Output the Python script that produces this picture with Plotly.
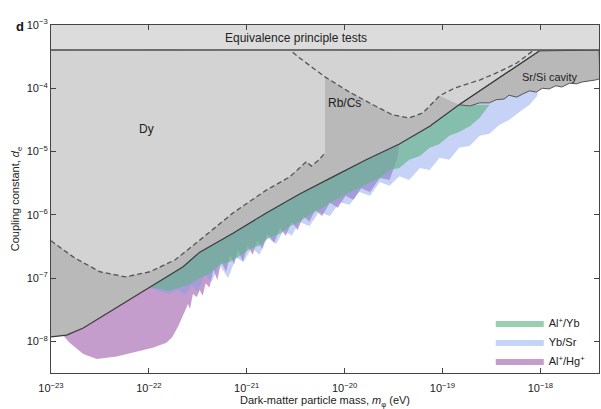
import numpy as np
import plotly.graph_objects as go

# all values below are log10 of mass (eV) and log10 of coupling d_e
x_range = [-23, -17.4]
y_range = [-8.5, -3]
ep_limit = -3.395  # equivalence principle tests

x_ticks = [-23, -22, -21, -20, -19, -18]
y_ticks = [-8, -7, -6, -5, -4, -3]

# solid line: combined bound from this work
solid_m = [-23.0, -22.84, -22.67, -22.5, -22.33, -22.16, -21.99, -21.82, -21.65, -21.48,
           -21.14, -20.8, -20.46, -20.12, -19.78, -19.44, -19.13, -18.83, -18.01]
solid_d = [-7.93, -7.9, -7.79, -7.63, -7.47, -7.31, -7.14, -6.98, -6.82, -6.59,
           -6.29, -5.97, -5.67, -5.4, -5.13, -4.88, -4.6, -4.26, -3.41]

# Dy bound (dashed, left)
dy_m = [-23.0, -22.76, -22.5, -22.24, -21.99, -21.73, -21.48, -21.14, -20.8, -20.56,
        -20.39, -20.34, -20.26, -20.2]
dy_d = [-6.41, -6.68, -6.9, -6.98, -6.9, -6.71, -6.4, -5.97, -5.61, -5.4,
        -5.16, -5.23, -5.13, -5.02]

# Rb/Cs bound (dashed, right)
rbcs_m = [-20.53, -20.46, -20.2, -19.95, -19.71, -19.51, -19.34, -19.2, -19.03, -18.88,
          -18.62, -18.42, -18.24, -18.06]
rbcs_d = [-3.43, -3.52, -3.82, -4.06, -4.26, -4.42, -4.47, -4.39, -4.12, -4.0,
          -3.87, -3.74, -3.6, -3.39]

# Sr/Si cavity lower edge
srsi_m = [-18.83, -18.72, -18.62, -18.52, -18.45, -18.37, -18.32, -18.24, -18.18, -18.11,
          -18.04, -17.98, -17.91, -17.84, -17.78, -17.7, -17.63, -17.57, -17.5, -17.44, -17.39]
srsi_d = [-4.26, -4.28, -4.23, -4.23, -4.18, -4.17, -4.11, -4.14, -4.09, -4.04,
          -4.06, -4.0, -4.01, -3.96, -3.98, -3.92, -3.93, -3.9, -3.88, -3.87, -3.85]

# lower edges of the clock comparison bands
alhg_m = [-22.88, -22.81, -22.67, -22.53, -22.33, -22.16, -21.96, -21.82, -21.76, -21.7,
          -21.66, -21.63, -21.6, -21.58, -21.55, -21.51, -21.48, -21.45, -21.42, -21.38,
          -21.34, -21.3, -21.26, -21.21, -21.17, -21.13, -21.09, -21.04, -20.99, -20.94,
          -20.89, -20.84, -20.79, -20.72, -20.66, -20.6, -20.54, -20.48, -20.42, -20.36,
          -20.3, -20.23, -20.15, -20.07, -19.99, -19.91, -19.83, -19.74, -19.64, -19.54,
          -19.46, -19.44]
alhg_d = [-7.9, -8.02, -8.2, -8.28, -8.24, -8.18, -8.1, -8.02, -7.93, -7.76,
          -7.63, -7.53, -7.41, -7.49, -7.25, -7.3, -7.19, -7.28, -7.08, -7.15,
          -6.87, -7.03, -6.74, -6.9, -6.63, -6.79, -6.55, -6.74, -6.49, -6.63,
          -6.4, -6.54, -6.3, -6.44, -6.21, -6.33, -6.11, -6.24, -6.02, -6.11,
          -5.92, -6.02, -5.81, -5.89, -5.7, -5.76, -5.58, -5.64, -5.42, -5.45,
          -5.1, -4.88]

ybsr_m = [-22.01, -21.89, -21.79, -21.7, -21.63, -21.56, -21.5, -21.43, -21.36, -21.28,
          -21.19, -21.11, -21.03, -20.95, -20.87, -20.79, -20.7, -20.62, -20.54, -20.46,
          -20.36, -20.26, -20.15, -20.05, -19.95, -19.85, -19.74, -19.64, -19.54, -19.44,
          -19.34, -19.23, -19.13, -19.03, -18.93, -18.83, -18.72, -18.62, -18.52, -18.42,
          -18.32, -18.21, -18.11, -18.03, -18.01]
ybsr_d = [-7.15, -7.2, -7.25, -7.19, -7.27, -7.11, -7.22, -6.95, -7.06, -6.79,
          -7.0, -6.68, -6.74, -6.52, -6.63, -6.36, -6.46, -6.24, -6.33, -6.11,
          -6.18, -5.95, -6.02, -5.8, -5.84, -5.64, -5.7, -5.48, -5.54, -5.39,
          -5.45, -5.26, -5.29, -5.1, -5.13, -4.94, -4.91, -4.75, -4.72, -4.58,
          -4.5, -4.37, -4.26, -4.12, -3.41]

alyb_m = [-21.99, -21.89, -21.79, -21.68, -21.58, -21.48, -21.38, -21.28, -21.17, -21.07,
          -20.97, -20.87, -20.77, -20.66, -20.56, -20.46, -20.36, -20.26, -20.15, -20.05,
          -19.95, -19.85, -19.74, -19.64, -19.54, -19.44, -19.34, -19.23, -19.13, -19.03,
          -18.93, -18.83, -18.72, -18.62, -18.52]
alyb_d = [-7.14, -7.17, -7.2, -7.15, -7.09, -7.0, -6.93, -6.79, -6.74, -6.65,
          -6.54, -6.49, -6.36, -6.3, -6.18, -6.11, -6.0, -5.92, -5.81, -5.73,
          -5.64, -5.58, -5.48, -5.42, -5.29, -5.26, -5.13, -5.07, -4.94, -4.88,
          -4.75, -4.69, -4.6, -4.47, -4.26]

FONT = "Liberation Sans, Arial, sans-serif"


def band_poly(lo_m, lo_d):
    # lower edge left to right, then back along the solid line
    top = [(m, d) for m, d in zip(solid_m, solid_d) if lo_m[0] < m < lo_m[-1]][::-1]
    xs = list(lo_m) + [t[0] for t in top]
    ys = list(lo_d) + [t[1] for t in top]
    return 10 ** np.array(xs), 10 ** np.array(ys)


def area(xs, ys, color, line_color=None, line_width=0, **kw):
    return go.Scatter(x=10 ** np.array(xs), y=10 ** np.array(ys), mode="lines",
                      fill="toself", fillcolor=color,
                      line=dict(color=line_color or color, width=line_width),
                      hoverinfo="skip", showlegend=False, **kw)


fig = go.Figure()

# clock comparison bands
for name, lo_m, lo_d, col, rank in [
        ("Al<sup>+</sup>/Hg<sup>+</sup>", alhg_m, alhg_d, "rgba(168,110,180,0.68)", 3),
        ("Yb/Sr", ybsr_m, ybsr_d, "rgba(128,155,236,0.45)", 2),
        ("Al<sup>+</sup>/Yb", alyb_m, alyb_d, "rgba(100,180,135,0.65)", 1)]:
    bx, by = band_poly(lo_m, lo_d)
    fig.add_trace(go.Scatter(x=bx, y=by, mode="lines", fill="toself", fillcolor=col,
                             line=dict(width=0, color=col), name=name,
                             legendrank=rank, hoverinfo="skip"))

# excluded regions
fig.add_trace(area(solid_m + [x_range[0]], solid_d + [ep_limit], "#d3d3d3"))
dark_m = dy_m + rbcs_m[2:9] + solid_m[:-1][::-1]
dark_d = dy_d + rbcs_d[2:9] + solid_d[:-1][::-1]
fig.add_trace(area(dark_m, dark_d, "#b9b9b9"))
sr_m = solid_m[-2:] + [x_range[1]] + srsi_m[::-1]
sr_d = solid_d[-2:] + [ep_limit] + srsi_d[::-1]
fig.add_trace(area(sr_m, sr_d, "#b8b8b8", line_color="#555555", line_width=1))
fig.add_trace(area([x_range[0], x_range[1], x_range[1], x_range[0]],
                   [ep_limit, ep_limit, y_range[1], y_range[1]], "#dcdcdc"))

# boundary lines
fig.add_trace(go.Scatter(x=10 ** np.array(x_range), y=[10 ** ep_limit] * 2, mode="lines",
                         line=dict(color="#4a4a4a", width=1.3), hoverinfo="skip",
                         showlegend=False))
fig.add_trace(go.Scatter(x=10 ** np.array(solid_m), y=10 ** np.array(solid_d), mode="lines",
                         line=dict(color="#3a3a3a", width=1.2), hoverinfo="skip",
                         showlegend=False))
for lm, ld in [(dy_m, dy_d), (rbcs_m, rbcs_d)]:
    fig.add_trace(go.Scatter(x=10 ** np.array(lm), y=10 ** np.array(ld), mode="lines",
                             line=dict(color="#555555", width=1.3, dash="5px,3px"),
                             hoverinfo="skip", showlegend=False))

labels = [("Equivalence principle tests", -20.5, -3.2, 12),
          ("Dy", -22.02, -4.65, 12),
          ("Rb/Cs", -20.0, -4.23, 12),
          ("Sr/Si cavity", -17.9, -3.82, 11)]
for txt, lx, ly, size in labels:
    fig.add_annotation(x=lx, y=ly, text=txt, showarrow=False,
                       font=dict(size=size, color="#222222", family=FONT))

fig.add_annotation(x=-0.068, y=1.023, xref="paper", yref="paper", text="<b>d</b>",
                   showarrow=False, font=dict(size=13, color="#111111", family=FONT))

axis_style = dict(type="log", showgrid=False, zeroline=False, showline=True,
                  linecolor="#444444", linewidth=1.2, mirror="allticks",
                  ticks="inside", ticklen=5, tickwidth=1, tickcolor="#444444",
                  automargin=False,
                  tickfont=dict(size=11, color="#222222", family=FONT))

fig.update_xaxes(range=x_range, tickvals=[10.0 ** t for t in x_ticks],
                 ticktext=[f"10<sup>\u2212{-t}</sup>" for t in x_ticks],
                 ticklabelstandoff=5,
                 title=dict(text="Dark-matter particle mass, <i>m</i><sub>\u03c6</sub> (eV)",
                            font=dict(size=11, color="#222222", family=FONT), standoff=2),
                 **axis_style)
fig.update_yaxes(range=y_range, tickvals=[10.0 ** t for t in y_ticks],
                 ticktext=[f"10<sup>\u2212{-t}</sup>" for t in y_ticks],
                 title=dict(text="Coupling constant, <i>d</i><sub>e</sub>",
                            font=dict(size=11, color="#222222", family=FONT), standoff=4),
                 **axis_style)

fig.update_layout(width=601, height=409,
                  margin=dict(l=51, r=2, t=25, b=36, autoexpand=False),
                  paper_bgcolor="white", plot_bgcolor="white",
                  font=dict(family=FONT, size=11, color="#222222"),
                  legend=dict(x=0.985, y=0.185, xanchor="right", yanchor="top",
                              bgcolor="rgba(0,0,0,0)", itemwidth=48,
                              font=dict(size=11, family=FONT), tracegroupgap=0))

# page body has a default margin that would shift and clip the figure
fig.write_html("out.html", config={"displayModeBar": False},
               post_script="document.body.style.margin='0';document.body.style.overflow='hidden';")
